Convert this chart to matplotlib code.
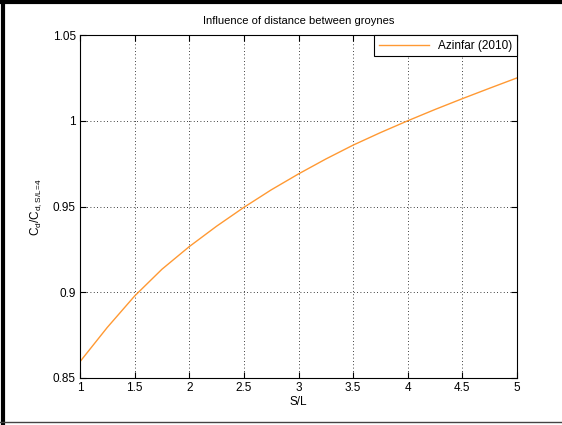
import numpy as np
import matplotlib
matplotlib.use("Agg")
import matplotlib.pyplot as plt
from matplotlib.lines import Line2D

# values
s_over_l = [1.0, 1.25, 1.5, 1.75, 2.0, 2.25, 2.5, 2.75, 3.0,
            3.25, 3.5, 3.75, 4.0, 4.25, 4.5, 4.75, 5.0]
cd_ratio = [0.8595, 0.8795, 0.8978, 0.9134, 0.9266, 0.9385, 0.9495, 0.9597, 0.9690,
            0.9777, 0.9858, 0.9931, 1.0000, 1.0066, 1.0129, 1.0190, 1.0250]

x_ticks = [1, 1.5, 2, 2.5, 3, 3.5, 4, 4.5, 5]
x_labels = ['1', '1.5', '2', '2.5', '3', '3.5', '4', '4.5', '5']
y_ticks = [0.85, 0.9, 0.95, 1.0, 1.05]
y_labels = ['0.85', '0.9', '0.95', '1', '1.05']

plt.rcParams['font.family'] = ['Liberation Sans', 'DejaVu Sans']
plt.rcParams['mathtext.default'] = 'regular'

fig = plt.figure(figsize=(5.62, 4.25), dpi=100)
ax = fig.add_axes([0.1423, 0.1106, 0.7777, 0.807])

ax.plot(s_over_l, cd_ratio, color='#ff9933', lw=1.0, label='Azinfar (2010)')

ax.set_xlim(1, 5)
ax.set_ylim(0.85, 1.05)
ax.set_xticks(x_ticks)
ax.set_xticklabels(x_labels)
ax.set_yticks(y_ticks)
ax.set_yticklabels(y_labels)
ax.tick_params(direction='in', length=4, width=0.8, labelsize=8.5,
               top=True, right=True, pad=3)
ax.grid(True, linestyle=(0, (1, 3)), color='black', lw=0.6)
for sp in ax.spines.values():
    sp.set_linewidth(0.8)

ax.set_title('Influence of distance between groynes', fontsize=8, pad=8)
ax.set_xlabel('S/L', fontsize=8.5, labelpad=1)
ax.set_ylabel(r'$C_d/C_{d,S/L\!=\!4}$', fontsize=8.5, labelpad=6)

leg = ax.legend(loc='upper right', borderaxespad=0, fontsize=8.5,
                fancybox=False, framealpha=1, edgecolor='black',
                handlelength=4.2, borderpad=0.4)
leg.get_frame().set_linewidth(0.8)

# figure frame (left, top thick; bottom thin)
fig.add_artist(Line2D([0.006, 0.006], [0, 1], transform=fig.transFigure, color='black', lw=3))
fig.add_artist(Line2D([0, 1], [0.996, 0.996], transform=fig.transFigure, color='black', lw=3))
fig.add_artist(Line2D([0, 1], [0.007, 0.007], transform=fig.transFigure, color='#444444', lw=1))

fig.savefig('out.png', dpi=100)
